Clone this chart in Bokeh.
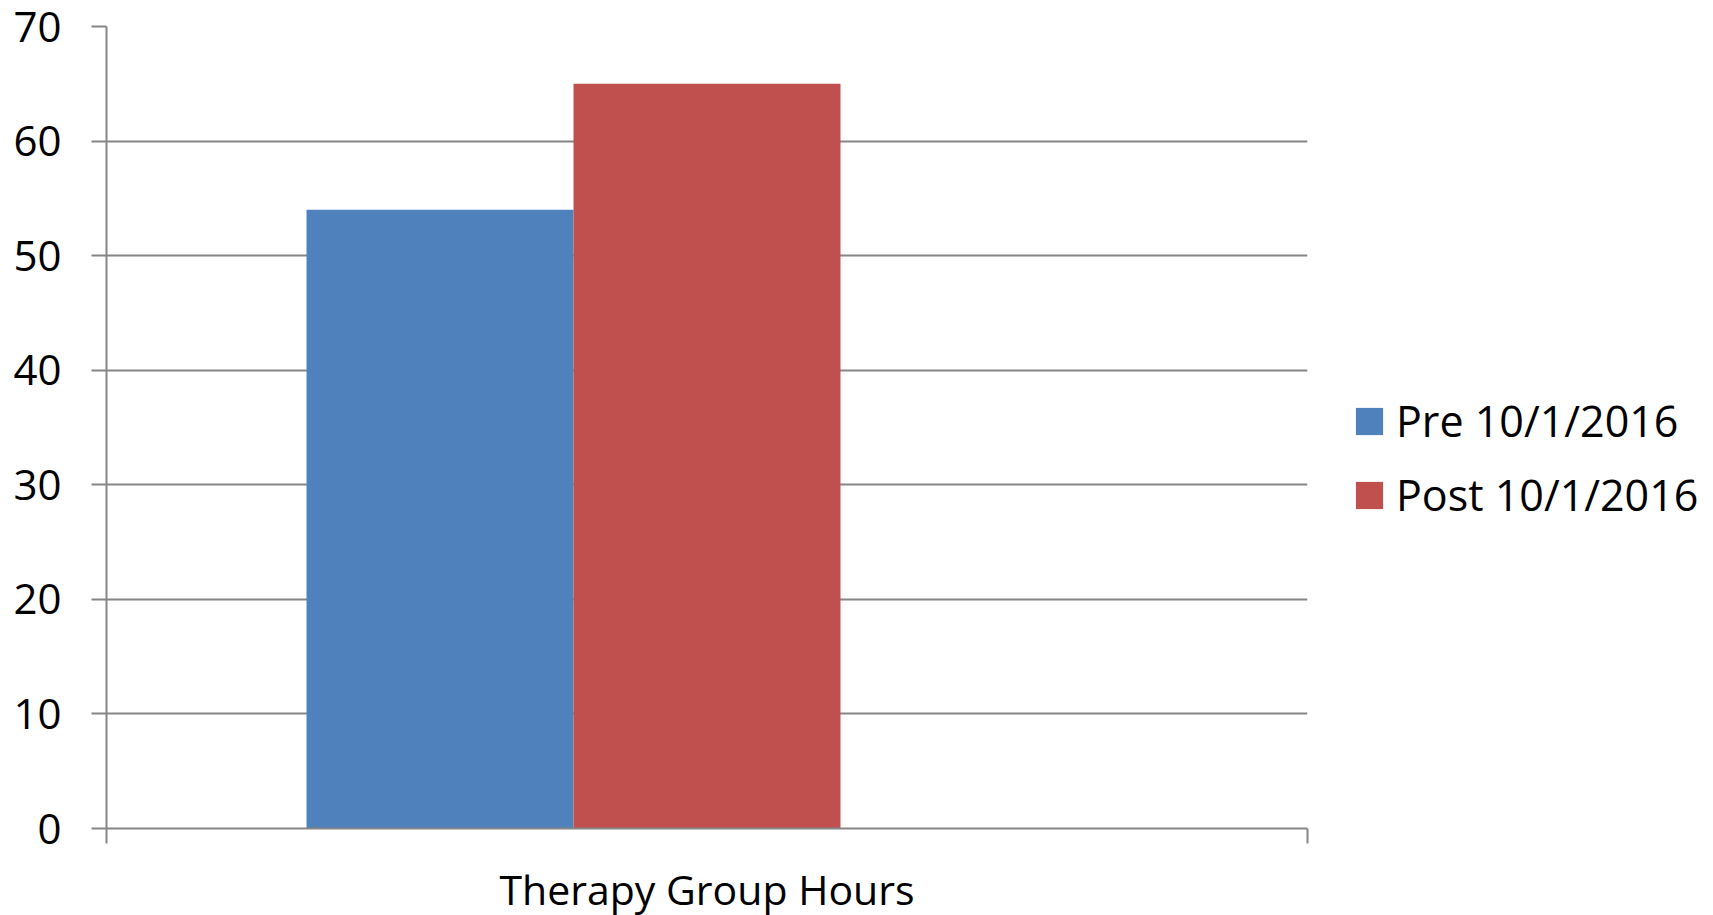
from bokeh.plotting import figure
from bokeh.models import (Range1d, LinearAxis, FixedTicker, Legend, LegendItem, ColumnDataSource)
from bokeh.transform import dodge
from bokeh.embed import file_html
from bokeh.resources import INLINE

# ---- data ----
categories = ["Therapy Group Hours"]
series_names = ["Pre 10/1/2016", "Post 10/1/2016"]
pre_values = [54]
post_values = [65]
y_ticks = [0, 10, 20, 30, 40, 50, 60, 70]
colors = ["#4F81BD", "#C0504D"]

FONT = "Open Sans"
FS = "41px"
GRID = "#868686"
BAR_W = 0.2223

cat_pos = [i + 0.5 for i in range(len(categories))]
source = ColumnDataSource(dict(x=cat_pos, cat=categories, pre=pre_values, post=post_values))

p = figure(x_range=Range1d(0, len(categories)), y_range=Range1d(y_ticks[0], y_ticks[-1]),
           frame_width=1201, frame_height=802,
           min_border_left=106, min_border_right=10, min_border_top=26, min_border_bottom=10,
           x_axis_location=None, output_backend="svg", toolbar_location=None)
p.outline_line_color = None
p.background_fill_color = "white"
p.border_fill_color = "white"

edge_axis = LinearAxis(ticker=FixedTicker(ticks=list(range(len(categories) + 1))),
                       major_label_text_font_size="0px", major_label_standoff=0,
                       major_label_text_alpha=0,
                       axis_line_color=GRID, axis_line_width=2,
                       major_tick_line_color=GRID, major_tick_line_width=2,
                       major_tick_in=0, major_tick_out=15, minor_tick_line_color=None)
p.add_layout(edge_axis, "below")
cat_axis = LinearAxis(ticker=FixedTicker(ticks=cat_pos),
                      major_label_overrides={x: c for x, c in zip(cat_pos, categories)},
                      axis_line_color=None, major_tick_line_color=None, minor_tick_line_color=None,
                      major_label_text_font=FONT, major_label_text_font_size=FS,
                      major_label_text_color="black", major_label_standoff=11)
p.add_layout(cat_axis, "below")

p.yaxis.ticker = FixedTicker(ticks=y_ticks)
p.yaxis.axis_line_color = GRID
p.yaxis.axis_line_width = 2
p.yaxis.major_tick_line_color = GRID
p.yaxis.major_tick_line_width = 2
p.yaxis.major_tick_in = 0
p.yaxis.major_tick_out = 15
p.yaxis.minor_tick_line_color = None
p.yaxis.major_label_text_font = FONT
p.yaxis.major_label_text_font_size = "42px"
p.yaxis.major_label_text_color = "black"
p.yaxis.major_label_standoff = 30

p.xgrid.grid_line_color = None
p.ygrid.ticker = FixedTicker(ticks=y_ticks)
p.ygrid.grid_line_color = GRID
p.ygrid.grid_line_width = 2

r_pre = p.vbar(x=dodge("x", -BAR_W, range=p.x_range), top="pre", width=BAR_W,
               source=source, fill_color=colors[0], line_color=None)
r_post = p.vbar(x=dodge("x", 0.0, range=p.x_range), top="post", width=BAR_W,
                source=source, fill_color=colors[1], line_color=None)

legend = Legend(items=[LegendItem(label=series_names[0], renderers=[r_pre]),
                       LegendItem(label=series_names[1], renderers=[r_post])],
                location=(45, 304), orientation="vertical",
                glyph_width=34, glyph_height=34, label_standoff=10, spacing=15,
                padding=0, margin=0, border_line_color=None, background_fill_alpha=0,
                label_text_font=FONT, label_text_font_size="43px", label_text_color="black")
p.add_layout(legend, "right")

open("out.html", "w").write(file_html(p, INLINE))
